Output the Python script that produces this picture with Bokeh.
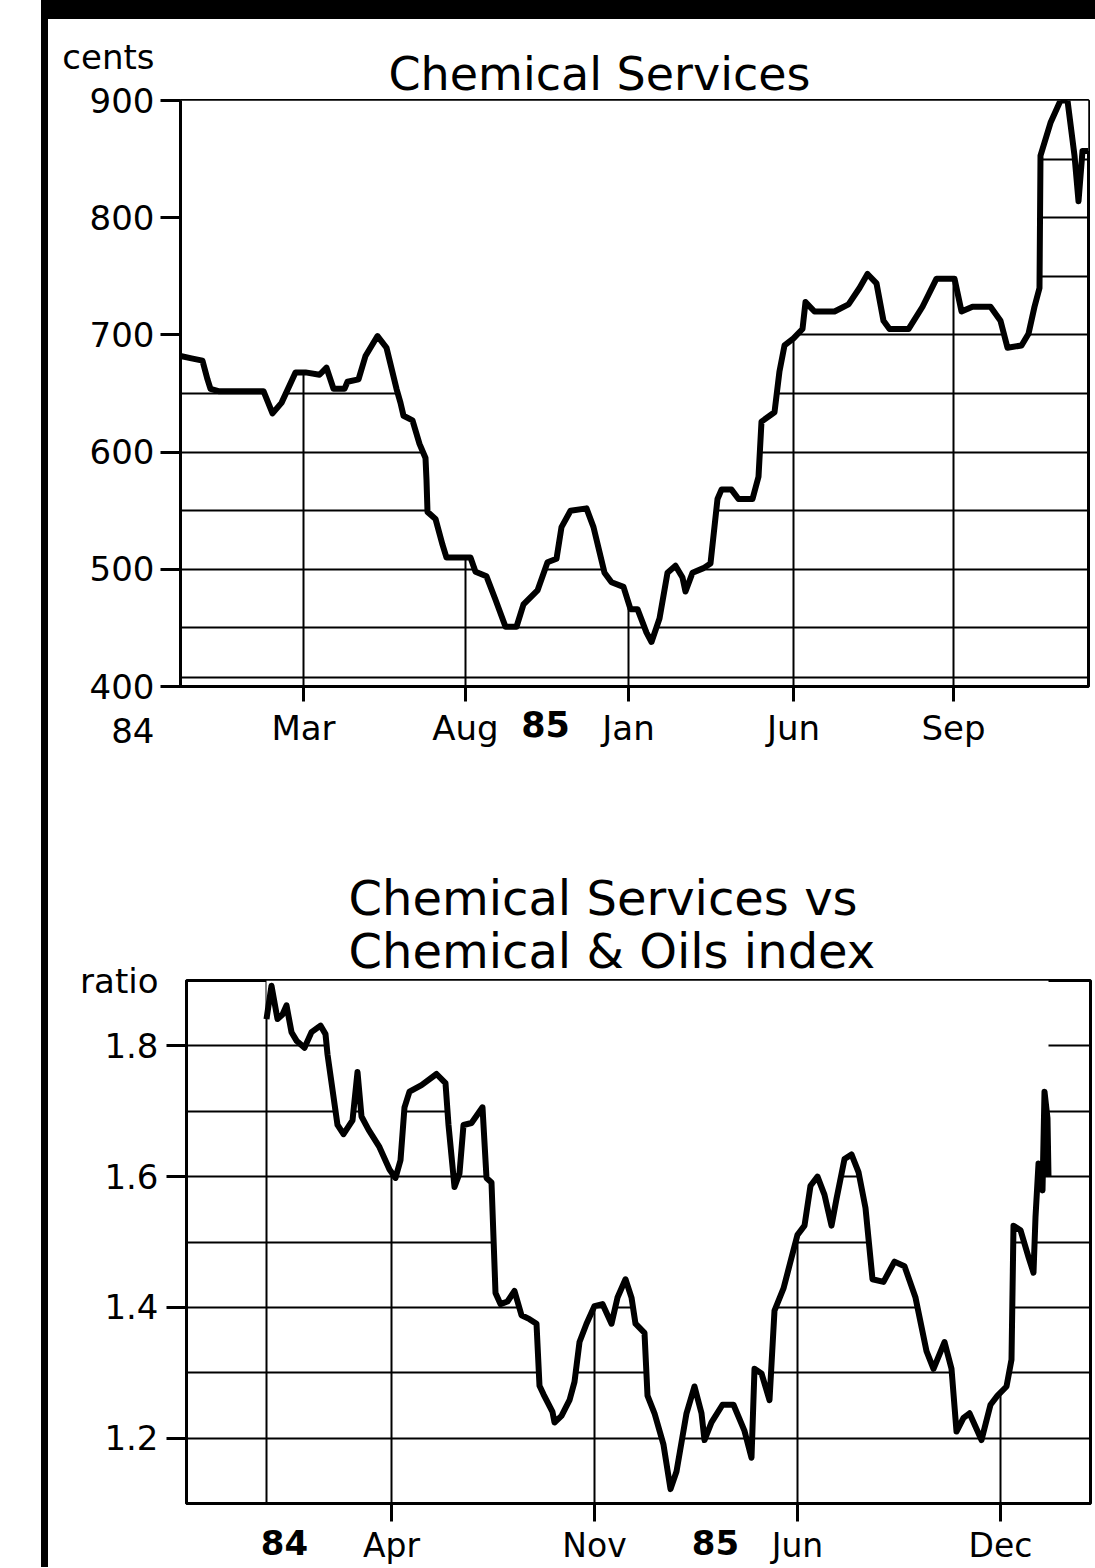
from bokeh.plotting import figure
from bokeh.models import Range1d, FixedTicker, LinearAxis, Title
from bokeh.layouts import column
from bokeh.embed import file_html
from bokeh.resources import INLINE

FONT = "DejaVu Sans"

# ---------------- Top panel: Chemical Services share price (cents) ----------------
price_t = [0, 11, 22, 27, 30, 38, 83, 92, 101, 115, 125, 139, 146, 153, 164, 167, 178, 185,
           197, 206, 216, 220, 223, 232, 239, 245, 246, 247, 255, 262, 266, 290, 295, 306,
           315, 325, 336, 343, 357, 367, 376, 381, 390, 406, 413, 424, 431, 443, 450, 457,
           466, 471, 479, 487, 495, 502, 505, 512, 523, 530, 537, 541, 551, 558, 572, 578,
           581, 594, 599, 604, 613, 622, 625, 634, 654, 668, 679, 687, 696, 703, 709, 728,
           742, 756, 774, 781, 792, 810, 820, 827, 841, 848, 854, 859, 860, 870, 880, 887,
           894, 898, 902, 908]
price_cents = [682, 680, 678, 662, 654, 652, 652, 633, 642, 668, 668, 666, 672, 654, 654, 660,
               662, 682, 699, 689, 654, 642, 631, 627, 607, 595, 576, 549, 543, 521, 510, 510,
               498, 494, 474, 451, 451, 470, 482, 506, 509, 536, 550, 552, 536, 497, 489, 485,
               466, 466, 446, 438, 458, 497, 503, 493, 481, 497, 501, 505, 560, 568, 568, 560,
               560, 579, 626, 634, 669, 691, 697, 705, 728, 720, 720, 726, 740, 752, 744, 712,
               705, 705, 724, 748, 748, 720, 724, 724, 712, 689, 691, 701, 724, 740, 853, 881,
               900, 900, 853, 814, 857, 857]
price_tick_pos = [123, 285, 448, 613, 773]
price_tick_labels = ["Mar", "Aug", "Jan", "Jun", "Sep"]
price_year_pos = [365]
price_year_labels = ["85"]
price_y_ticks = [400, 500, 600, 700, 800, 900]
price_y_labels = ["\u00a0\n400\n84", "500", "600", "700", "800", "cents\n900\n\u00a0"]
price_grid = [408, 450, 500, 550, 600, 650, 700, 750, 800, 850]
price_title = "Chemical Services"

# ---------------- Bottom panel: relative to Chemical & Oils index ----------------
ratio_t = [80, 85, 91, 96, 100, 105, 110, 118, 125, 134, 139, 141, 151, 157, 166, 171, 175,
           182, 193, 203, 209, 214, 218, 223, 235, 250, 259, 262, 268, 273, 277, 285, 296,
           300, 305, 309, 314, 321, 328, 335, 343, 350, 353, 357, 366, 368, 375, 383, 388,
           393, 400, 408, 416, 425, 431, 439, 445, 449, 458, 461, 468, 477, 484, 490, 500,
           508, 515, 518, 525, 536, 547, 558, 565, 568, 575, 583, 588, 597, 604, 611, 618,
           624, 631, 638, 645, 650, 658, 665, 672, 679, 686, 697, 708, 718, 729, 740, 747,
           758, 765, 770, 777, 783, 795, 804, 811, 820, 825, 827, 834, 842, 847, 849, 852,
           856, 858, 861, 862]
ratio_vals = [1.841, 1.892, 1.841, 1.848, 1.862, 1.821, 1.808, 1.797, 1.821, 1.831, 1.818,
              1.787, 1.679, 1.665, 1.686, 1.760, 1.692, 1.672, 1.645, 1.611, 1.598, 1.625,
              1.706, 1.730, 1.740, 1.757, 1.743, 1.679, 1.584, 1.605, 1.679, 1.682, 1.706,
              1.598, 1.591, 1.422, 1.405, 1.409, 1.425, 1.388, 1.382, 1.375, 1.280, 1.267,
              1.240, 1.224, 1.234, 1.258, 1.286, 1.347, 1.375, 1.402, 1.405, 1.375, 1.415,
              1.443, 1.415, 1.375, 1.361, 1.265, 1.238, 1.190, 1.122, 1.149, 1.238, 1.279,
              1.238, 1.197, 1.224, 1.251, 1.251, 1.211, 1.170, 1.306, 1.299, 1.258, 1.395,
              1.429, 1.470, 1.511, 1.525, 1.586, 1.600, 1.572, 1.525, 1.566, 1.627, 1.634,
              1.607, 1.552, 1.443, 1.439, 1.470, 1.463, 1.415, 1.333, 1.306, 1.347, 1.306,
              1.210, 1.231, 1.238, 1.197, 1.251, 1.265, 1.279, 1.320, 1.525, 1.518, 1.477,
              1.453, 1.538, 1.620, 1.579, 1.730, 1.689, 1.600]
ratio_tick_pos = [205, 408, 611, 814]
ratio_tick_labels = ["Apr", "Nov", "Jun", "Dec"]
ratio_year_pos = [98, 529]
ratio_year_labels = ["84", "85"]
ratio_y_ticks = [1.2, 1.4, 1.6, 1.8]
ratio_y_labels = ["1.2", "1.4", "1.6", "ratio\n1.8\n\u00a0"]
ratio_grid = [1.2, 1.3, 1.4, 1.5, 1.6, 1.7, 1.8]
ratio_vgrid = [80, 205, 408, 611, 814]
ratio_title = "Chemical Services vs\nChemical & Oils index"

HAS_STANDOFF = "standoff" in Title.properties()


def base_figure(width, height, xr, yr, borders):
    left, right, top, bottom = borders
    p = figure(width=width, height=height, x_range=Range1d(*xr), y_range=Range1d(*yr),
               output_backend="svg", toolbar_location=None,
               min_border_left=left, min_border_right=right,
               min_border_top=top, min_border_bottom=bottom)
    if "frame_align" in p.properties():
        p.frame_align = False
    p.background_fill_color = "white"
    p.border_fill_color = "white"
    p.outline_line_color = "black"
    p.outline_line_width = 3
    for ax in (p.xaxis[0], p.yaxis[0]):
        ax.axis_line_color = "black"
        ax.axis_line_width = 3
        ax.major_tick_line_color = "black"
        ax.major_tick_line_width = 3
        ax.major_tick_in = 0
        ax.minor_tick_line_color = None
        ax.major_label_text_font = FONT
        ax.major_label_text_color = "black"
    for g in (p.xgrid[0], p.ygrid[0]):
        g.grid_line_color = "black"
        g.grid_line_width = 2
        g.grid_line_alpha = 1.0
    return p


def set_title(p, text, size, offset, line_height=1.0, standoff=0):
    p.title.text = text
    p.title.align = "left"
    p.title.offset = offset
    p.title.text_font = FONT
    p.title.text_font_size = size
    p.title.text_font_style = "normal"
    p.title.text_color = "black"
    p.title.text_line_height = line_height
    if HAS_STANDOFF:
        p.title.standoff = standoff


def add_year_axis(p, ticks, labels, size, standoff):
    ax = LinearAxis(ticker=FixedTicker(ticks=ticks),
                    major_label_overrides={t: l for t, l in zip(ticks, labels)},
                    axis_line_color=None, major_tick_line_color=None,
                    minor_tick_line_color=None, major_tick_in=0, major_tick_out=0,
                    major_label_standoff=standoff, major_label_text_font=FONT,
                    major_label_text_font_size=size, major_label_text_font_style="bold",
                    major_label_text_color="black")
    p.add_layout(ax, "below")


# ---------------- Top figure ----------------
p1 = base_figure(1047, 781, (0, 908), (400, 900), (132, 7, 81, 114))
p1.yaxis[0].ticker = FixedTicker(ticks=price_y_ticks)
p1.yaxis[0].major_label_overrides = {t: l for t, l in zip(price_y_ticks, price_y_labels)}
p1.yaxis[0].major_tick_out = 20
p1.yaxis[0].major_label_standoff = 6
p1.yaxis[0].major_label_text_font_size = "34px"
p1.yaxis[0].major_label_text_line_height = 1.1
p1.xaxis[0].ticker = FixedTicker(ticks=price_tick_pos)
p1.xaxis[0].major_label_overrides = {t: l for t, l in zip(price_tick_pos, price_tick_labels)}
p1.xaxis[0].major_tick_out = 15
p1.xaxis[0].major_label_standoff = 6
p1.xaxis[0].major_label_text_font_size = "34px"
p1.xgrid[0].ticker = FixedTicker(ticks=price_tick_pos)
p1.ygrid[0].ticker = FixedTicker(ticks=price_grid)
add_year_axis(p1, price_year_pos, price_year_labels, "35px", -40)
set_title(p1, price_title, "46px", 208)

p1.varea(x=price_t, y1=price_cents, y2=900, fill_color="white")
p1.line(price_t, price_cents, line_width=6, color="black", line_join="round")

# ---------------- Bottom figure ----------------
p2 = base_figure(1047, 767, (0, 904), (1.1, 1.9), (138, 5, 180, 62))
p2.yaxis[0].ticker = FixedTicker(ticks=ratio_y_ticks)
p2.yaxis[0].major_label_overrides = {t: l for t, l in zip(ratio_y_ticks, ratio_y_labels)}
p2.yaxis[0].major_tick_out = 20
p2.yaxis[0].major_label_standoff = 8
p2.yaxis[0].major_label_text_font_size = "34px"
p2.yaxis[0].major_label_text_line_height = 1.63
p2.xaxis[0].ticker = FixedTicker(ticks=ratio_tick_pos)
p2.xaxis[0].major_label_overrides = {t: l for t, l in zip(ratio_tick_pos, ratio_tick_labels)}
p2.xaxis[0].major_tick_out = 18
p2.xaxis[0].major_label_standoff = 4
p2.xaxis[0].major_label_text_font_size = "33px"
p2.xgrid[0].ticker = FixedTicker(ticks=ratio_vgrid)
p2.ygrid[0].ticker = FixedTicker(ticks=ratio_grid)
add_year_axis(p2, ratio_year_pos, ratio_year_labels, "34px", -38)
set_title(p2, ratio_title, "48px", 162, line_height=0.94, standoff=3)

p2.varea(x=ratio_t, y1=ratio_vals, y2=1.9, fill_color="white")
p2.line(ratio_t, ratio_vals, line_width=6, color="black", line_join="round")

layout = column(p1, p2, styles={"border-left": "7px solid black",
                                "border-top": "19px solid black",
                                "margin-left": "41px"})

open("out.html", "w").write(file_html(layout, INLINE))
